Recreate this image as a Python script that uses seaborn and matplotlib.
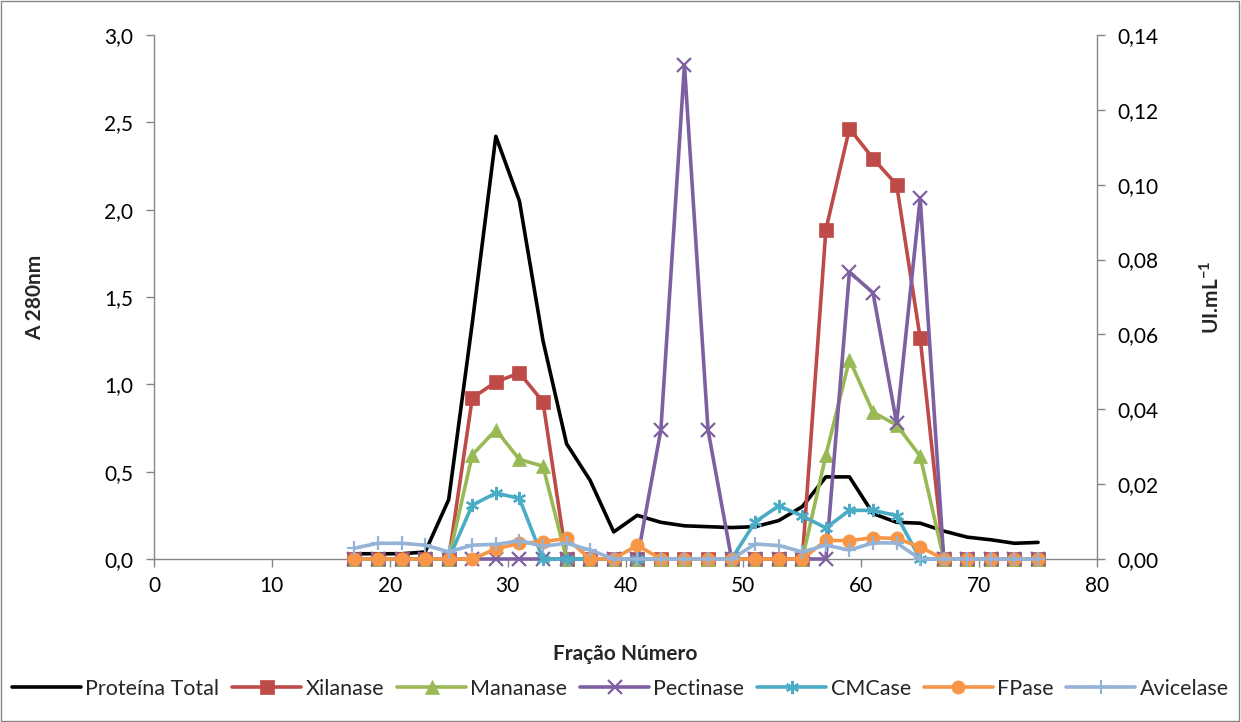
import matplotlib
matplotlib.use("Agg")
import matplotlib.pyplot as plt
from matplotlib.ticker import FuncFormatter, MultipleLocator
from matplotlib.patches import Rectangle
import seaborn as sns
import numpy as np
import pandas as pd

# ---- data ----
fracao = list(range(17, 76, 2))  # 17..75

proteina_total = [0.03, 0.03, 0.03, 0.04, 0.34, 1.35, 2.42, 2.05, 1.25, 0.66,
                  0.45, 0.155, 0.25, 0.21, 0.19, 0.185, 0.18, 0.185, 0.22, 0.30,
                  0.47, 0.47, 0.26, 0.21, 0.205, 0.16, 0.125, 0.11, 0.09, 0.095]

xilanase = [0, 0, 0, 0, 0, 0.043, 0.0473, 0.0497, 0.042, 0,
            0, 0, 0, 0, 0, 0, 0, 0, 0, 0,
            0.088, 0.115, 0.107, 0.100, 0.059, 0, 0, 0, 0, 0]

mananase = [0, 0, 0, 0, 0, 0.0278, 0.0345, 0.0266, 0.0248, 0,
            0, 0, 0, 0, 0, 0, 0, 0, 0, 0,
            0.0277, 0.0533, 0.0392, 0.0358, 0.0275, 0, 0, 0, 0, 0]

pectinase = [0, 0, 0, 0, 0, 0, 0, 0, 0, 0,
             0, 0, 0, 0.0345, 0.132, 0.0345, 0, 0, 0, 0,
             0, 0.0767, 0.0711, 0.0363, 0.0964, 0, 0, 0, 0, 0]

cmcase = [0, 0, 0, 0, 0, 0.0144, 0.0176, 0.0162, 0, 0,
          0, 0, 0, 0, 0, 0, 0, 0.0099, 0.0142, 0.0115,
          0.0083, 0.0130, 0.0130, 0.0116, 0, 0, 0, 0, 0, 0]

fpase = [0, 0, 0, 0, 0, 0, 0.0027, 0.0042, 0.0046, 0.0055,
         0, 0, 0.0037, 0, 0, 0, 0, 0, 0, 0,
         0.0050, 0.0049, 0.0057, 0.0055, 0.0032, 0, 0, 0, 0, 0]

avicelase = [0.0029, 0.0042, 0.0042, 0.0037, 0.0019, 0.0037, 0.0039, 0.0049, 0.0034, 0.0042,
             0.0024, 0, 0, 0, 0, 0, 0, 0.0040, 0.0036, 0.0019,
             0.0037, 0.0024, 0.0043, 0.0043, 0, 0, 0, 0, 0, 0]

enzimas = [
    ("Xilanase", xilanase, "#BE4B48", "s"),
    ("Mananase", mananase, "#98B954", "^"),
    ("Pectinase", pectinase, "#7D60A0", "x"),
    ("CMCase", cmcase, "#4BACC6", (6, 2, 0)),
    ("FPase", fpase, "#F79646", "o"),
    ("Avicelase", avicelase, "#95B3D7", "+"),
]

# ---- style ----
sns.set_theme(style="white")
plt.rcParams["font.family"] = ["Lato", "DejaVu Sans"]
plt.rcParams["mathtext.fontset"] = "custom"
plt.rcParams["mathtext.rm"] = "Lato"
plt.rcParams["mathtext.bf"] = "Lato:bold"
plt.rcParams["axes.linewidth"] = 1.0

fig = plt.figure(figsize=(12.41, 7.22), dpi=100)
ax = fig.add_axes([154/1241, 1-559/722, (1097-154)/1241, (559-35)/722])
ax2 = ax.twinx()

df_p = pd.DataFrame({"x": fracao, "y": proteina_total})
sns.lineplot(data=df_p, x="x", y="y", ax=ax, color="black", linewidth=2.6,
             label="Proteína Total", legend=False)

for name, vals, col, mk in enzimas:
    d = pd.DataFrame({"x": fracao, "y": vals})
    mew = 1.6 if mk in ("x", "+", (6, 2, 0)) else 0.5
    sns.lineplot(data=d, x="x", y="y", ax=ax2, color=col, linewidth=2.6,
                 marker=mk, markersize=9.5 if mk != "s" else 10,
                 markeredgecolor=col, markerfacecolor=col, markeredgewidth=mew,
                 label=name, legend=False, clip_on=False)

ax.set_xlim(0, 80)
ax.set_ylim(0, 3.0)
ax2.set_ylim(0, 0.14)
ax.xaxis.set_major_locator(MultipleLocator(10))
ax.yaxis.set_major_locator(MultipleLocator(0.5))
ax2.yaxis.set_major_locator(MultipleLocator(0.02))
ax.yaxis.set_major_formatter(FuncFormatter(lambda v, p: f"{v:.1f}".replace(".", ",")))
ax2.yaxis.set_major_formatter(FuncFormatter(lambda v, p: f"{v:.2f}".replace(".", ",")))

spine_col = "#868686"
for a in (ax, ax2):
    for s in a.spines.values():
        s.set_color(spine_col)
    a.spines["top"].set_visible(False)
    a.tick_params(axis="both", which="major", direction="out", length=6, width=1,
                  color=spine_col, labelsize=15, labelcolor="black", pad=5)
    a.grid(False)
ax.spines["right"].set_visible(False)
ax2.spines["left"].set_visible(False)
ax2.spines["bottom"].set_visible(False)
ax.tick_params(axis="y", left=True, right=False, pad=9)
ax.tick_params(axis="x", bottom=True, pad=6)
ax2.tick_params(axis="y", right=True, left=False, pad=9)

ax.set_xlabel("Fração Número", fontsize=15, fontweight="bold")
ax.xaxis.set_label_coords(0.5, -(644-559)/524)
ax.set_ylabel("A 280nm", fontsize=15, fontweight="bold")
ax.yaxis.set_label_coords(-(154-45)/943, 0.5)
ax2.set_ylabel(r"UI.mL$^{\mathbf{-1}}$", fontsize=15, fontweight="bold")
ax2.yaxis.set_label_coords((1199-154)/943, 0.5)

h1, l1 = ax.get_legend_handles_labels()
h2, l2 = ax2.get_legend_handles_labels()
fig.legend(h1 + h2, l1 + l2, loc="center", bbox_to_anchor=(0.5, 1-689/722),
           ncol=7, frameon=False, fontsize=15.5, handlelength=3.2,
           columnspacing=0.6, handletextpad=0.2)

fig.patches.append(Rectangle((0.001, 0.001), 0.997, 0.997, transform=fig.transFigure,
                             fill=False, edgecolor="#868686", linewidth=1.0))

fig.savefig("out.png", dpi=100)
